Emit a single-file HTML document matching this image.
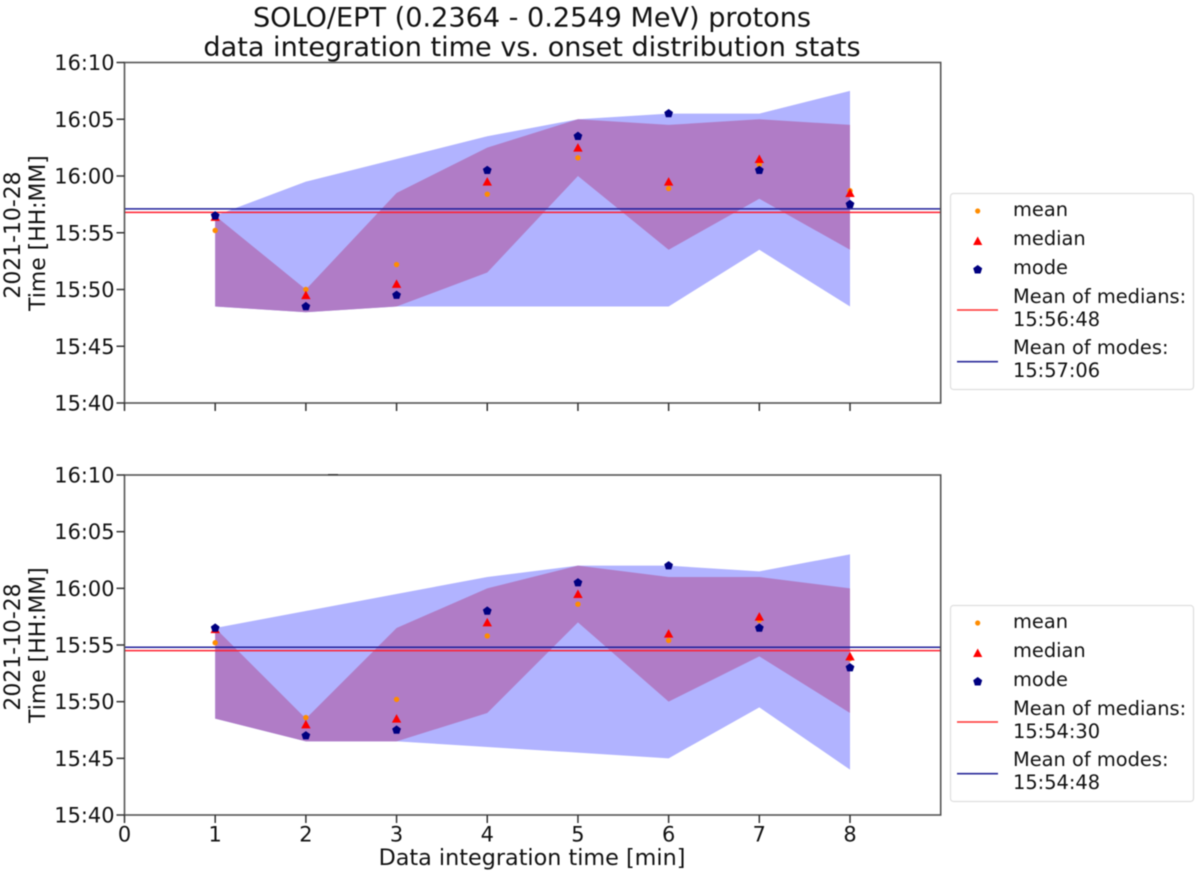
<!DOCTYPE html>
<html lang="en">
<head>
<meta charset="utf-8">
<title>SOLO/EPT onset distribution stats</title>
<style>
  html, body { margin: 0; padding: 0; background: #fff; width: 1200px; height: 875px; overflow: hidden; }
  svg { display: block; font-family: "DejaVu Sans", "Liberation Sans", sans-serif; fill: #111; }
  #chart-root { filter: blur(0.45px); }
</style>
</head>
<body>
<svg id="chart" width="1200" height="875" viewBox="0 0 1200 875" xmlns="http://www.w3.org/2000/svg">
  <g id="chart-root">
    <text x="532" y="26.5" font-size="27.1" text-anchor="middle">SOLO/EPT (0.2364 - 0.2549 MeV) protons</text>
    <text x="532" y="56" font-size="27.1" text-anchor="middle">data integration time vs. onset distribution stats</text>

    <g id="panel-top"></g>
    <g id="panel-bottom"></g>

    <g font-size="21.9" text-anchor="middle">
      <text transform="translate(20,235) rotate(-90)">2021-10-28</text>
      <text transform="translate(45,233) rotate(-90)">Time [HH:MM]</text>
    </g>
    <g font-size="21.9" text-anchor="middle">
      <text transform="translate(20,647) rotate(-90)">2021-10-28</text>
      <text transform="translate(45,645) rotate(-90)">Time [HH:MM]</text>
    </g>
    <text x="532" y="865" font-size="22.3" text-anchor="middle">Data integration time [min]</text>
    <rect x="328" y="474" width="10" height="1.2" fill="#333"></rect>

    <g font-size="19.4">
      <rect x="950.5" y="193.5" width="243" height="196" rx="3" fill="#fff" stroke="#dedede" stroke-width="1.2"></rect>
      <circle cx="977.7" cy="211" r="2.6" fill="#ff8c00"></circle>
      <path d="M977.7 236.5l4.6 8.5h-9.2z" fill="#f00"></path>
      <path d="M977.7 265l4.5 3.3-1.7 5.2h-5.6l-1.7-5.2z" fill="#000080"></path>
      <line x1="957" x2="998" y1="310" y2="310" stroke="#ff3030" stroke-width="1.6"></line>
      <line x1="957" x2="998" y1="361.7" y2="361.7" stroke="#2a2a9a" stroke-width="1.6"></line>
      <text x="1013" y="216">mean</text>
      <text x="1013" y="245">median</text>
      <text x="1013" y="274">mode</text>
      <text x="1013" y="303">Mean of medians:</text>
      <text x="1013" y="326">15:56:48</text>
      <text x="1013" y="354">Mean of modes:</text>
      <text x="1013" y="377">15:57:06</text>
    </g>

    <g font-size="19.4">
      <rect x="950.5" y="605.5" width="243" height="196" rx="3" fill="#fff" stroke="#dedede" stroke-width="1.2"></rect>
      <circle cx="977.7" cy="623" r="2.6" fill="#ff8c00"></circle>
      <path d="M977.7 648.5l4.6 8.5h-9.2z" fill="#f00"></path>
      <path d="M977.7 677l4.5 3.3-1.7 5.2h-5.6l-1.7-5.2z" fill="#000080"></path>
      <line x1="957" x2="998" y1="722" y2="722" stroke="#ff3030" stroke-width="1.6"></line>
      <line x1="957" x2="998" y1="773.7" y2="773.7" stroke="#2a2a9a" stroke-width="1.6"></line>
      <text x="1013" y="628">mean</text>
      <text x="1013" y="657">median</text>
      <text x="1013" y="686">mode</text>
      <text x="1013" y="715">Mean of medians:</text>
      <text x="1013" y="738">15:54:30</text>
      <text x="1013" y="766">Mean of modes:</text>
      <text x="1013" y="789">15:54:48</text>
    </g>
  </g>
</svg>
<script>
// All time values are minutes after 15:00 on 2021-10-28.
const integrationTimes = [1, 2, 3, 4, 5, 6, 7, 8];
const xTickValues = [0, 1, 2, 3, 4, 5, 6, 7, 8];
const yTickValues = [40, 45, 50, 55, 60, 65, 70];
const yTickLabels = ['15:40', '15:45', '15:50', '15:55', '16:00', '16:05', '16:10'];

const topMean = [55.2, 50.0, 52.2, 58.4, 61.6, 58.9, 61.0, 58.7];
const topMedian = [56.4, 49.5, 50.5, 59.5, 62.5, 59.5, 61.5, 58.5];
const topMode = [56.5, 48.5, 49.5, 60.5, 63.5, 65.5, 60.5, 57.5];
const topModeBandHigh = [56.5, 59.5, 61.5, 63.5, 65.0, 65.5, 65.5, 67.5];
const topModeBandLow = [48.5, 48.0, 48.5, 48.5, 48.5, 48.5, 53.5, 48.5];
const topMedianBandHigh = [56.5, 50.0, 58.5, 62.5, 65.0, 64.5, 65.0, 64.5];
const topMedianBandLow = [48.5, 48.0, 48.5, 51.5, 60.0, 53.5, 58.0, 53.5];
const topMeanOfMedians = 56.8;
const topMeanOfModes = 57.1;

const bottomMean = [55.2, 48.6, 50.2, 55.8, 58.6, 55.4, 57.2, 53.8];
const bottomMedian = [56.4, 48.0, 48.5, 57.0, 59.5, 56.0, 57.5, 54.0];
const bottomMode = [56.5, 47.0, 47.5, 58.0, 60.5, 62.0, 56.5, 53.0];
const bottomModeBandHigh = [56.5, 58.0, 59.5, 61.0, 62.0, 62.0, 61.5, 63.0];
const bottomModeBandLow = [48.5, 46.5, 46.5, 46.0, 45.5, 45.0, 49.5, 44.0];
const bottomMedianBandHigh = [56.5, 48.5, 56.5, 60.0, 62.0, 61.0, 61.0, 60.0];
const bottomMedianBandLow = [48.5, 46.5, 46.5, 49.0, 57.0, 50.0, 54.0, 49.0];
const bottomMeanOfMedians = 54.5;
const bottomMeanOfModes = 54.8;

const SVG_NS = 'http://www.w3.org/2000/svg';
const axLeft = 124.5;
const axRight = 940.7;
const xDomainMax = 9;
const yDomainMin = 40;
const yDomainMax = 70;

function make(parent, tag, attrs) {
  const el = document.createElementNS(SVG_NS, tag);
  Object.keys(attrs).forEach(function (k) { el.setAttribute(k, attrs[k]); });
  parent.appendChild(el);
  return el;
}

function xScale(v) {
  return axLeft + (v / xDomainMax) * (axRight - axLeft);
}

function bandPath(xs, hi, lo, y) {
  const up = xs.map(function (x, i) { return xScale(x).toFixed(2) + ',' + y(hi[i]).toFixed(2); });
  const down = xs.map(function (x, i) { return xScale(x).toFixed(2) + ',' + y(lo[i]).toFixed(2); }).reverse();
  return up.concat(down).join(' ');
}

function drawPanel(root, axTop, axBottom, showXLabels, s) {
  const y = function (v) {
    return axBottom - (v - yDomainMin) / (yDomainMax - yDomainMin) * (axBottom - axTop);
  };

  const modeBand = make(root, 'polygon', { points: bandPath(integrationTimes, s.modeHigh, s.modeLow, y), fill: '#b1b3ff' });
  
  

  const medianBand = make(root, 'polygon', { points: bandPath(integrationTimes, s.medianHigh, s.medianLow, y), fill: '#b07cc6' });
  
  

  const modeLine = make(root, 'line', { x1: axLeft, x2: axRight, y1: y(s.modesMean), y2: y(s.modesMean), stroke: '#20209a', 'stroke-width': 1.5 });
  
  

  const medianLine = make(root, 'line', { x1: axLeft, x2: axRight, y1: y(s.mediansMean), y2: y(s.mediansMean), stroke: '#ff2030', 'stroke-width': 1.5 });
  
  

  integrationTimes.forEach(function (t, i) {
    const cx = xScale(t);

    const meanDot = make(root, 'circle', { cx: cx, cy: y(s.mean[i]), r: 2.7, fill: '#ff8c00' });
    
    

    const my = y(s.median[i]);
    const medianTri = make(root, 'polygon', {
      points: cx + ',' + (my - 4.5) + ' ' + (cx + 4.7) + ',' + (my + 4) + ' ' + (cx - 4.7) + ',' + (my + 4),
      fill: '#ff0000'
    });
    
    

    const py = y(s.mode[i]);
    const pts = [];
    for (let k = 0; k < 5; k++) {
      const a = -Math.PI / 2 + k * 2 * Math.PI / 5;
      pts.push((cx + 4.6 * Math.cos(a)).toFixed(2) + ',' + (py + 4.6 * Math.sin(a)).toFixed(2));
    }
    const modePent = make(root, 'polygon', { points: pts.join(' '), fill: '#000080' });
    
    
  });

  const frame = make(root, 'rect', { x: axLeft, y: axTop, width: axRight - axLeft, height: axBottom - axTop, fill: 'none', stroke: '#555', 'stroke-width': 1.6 });
  
  

  yTickValues.forEach(function (v, i) {
    const tick = make(root, 'line', { x1: axLeft - 8, x2: axLeft, y1: y(v), y2: y(v), stroke: '#333', 'stroke-width': 1.5 });
    
    

    const label = make(root, 'text', { x: axLeft - 10, y: y(v) + 7.5, 'font-size': 20.9, 'text-anchor': 'end' });
    label.textContent = yTickLabels[i];
    
    
  });

  xTickValues.forEach(function (v) {
    const tick = make(root, 'line', { x1: xScale(v), x2: xScale(v), y1: axBottom, y2: axBottom + 8, stroke: '#333', 'stroke-width': 1.5 });
    
    

    if (showXLabels) {
      const label = make(root, 'text', { x: xScale(v), y: axBottom + 26.5, 'font-size': 20.9, 'text-anchor': 'middle' });
      label.textContent = String(v);
      
      
    }
  });
}

drawPanel(document.getElementById('panel-top'), 62.5, 403, false, {
  mean: topMean, median: topMedian, mode: topMode,
  modeHigh: topModeBandHigh, modeLow: topModeBandLow,
  medianHigh: topMedianBandHigh, medianLow: topMedianBandLow,
  mediansMean: topMeanOfMedians, modesMean: topMeanOfModes
});

drawPanel(document.getElementById('panel-bottom'), 475, 815, true, {
  mean: bottomMean, median: bottomMedian, mode: bottomMode,
  modeHigh: bottomModeBandHigh, modeLow: bottomModeBandLow,
  medianHigh: bottomMedianBandHigh, medianLow: bottomMedianBandLow,
  mediansMean: bottomMeanOfMedians, modesMean: bottomMeanOfModes
});
</script>
</body>
</html>
